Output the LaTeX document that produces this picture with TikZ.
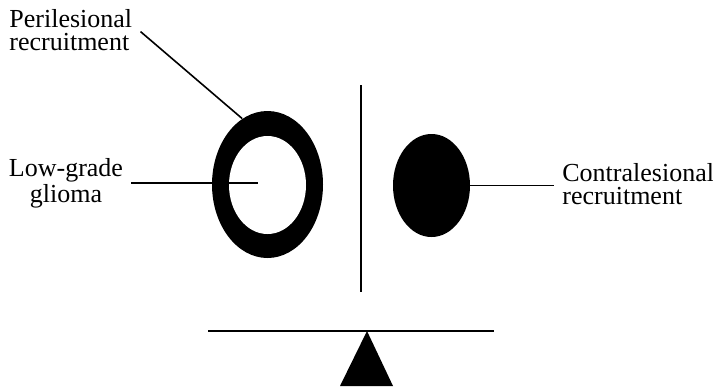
\documentclass[tikz,border=0pt]{standalone}
\usepackage{fontspec}
\setmainfont{Liberation Serif}
\usetikzlibrary{shapes.geometric, calc}

\begin{document}
\begin{tikzpicture}[
  x=0.5pt, y=-0.5pt,
  lbl/.style={inner sep=0pt, font=\fontsize{13pt}{11.5pt}\selectfont},
  blob/.style={ellipse, fill=black, inner sep=0pt},
  lead/.style={line width=0.8pt},
]
\useasboundingbox (0,0) rectangle (713,386);

% lesion side: ring with hollow centre
\node[blob, minimum width=55.5pt, minimum height=73.5pt] (ring) at (267.5,184.5) {};
\node[blob, fill=white, minimum width=38.5pt, minimum height=49pt] (glioma) at (267.5,185) {};
% healthy side
\node[blob, minimum width=38.5pt, minimum height=51.5pt] (contra) at (431.5,185.5) {};

% labels (base = last line)
\node[lbl, align=left, anchor=base west] (perilab) at (9,50) {Perilesional\\recruitment};
\node[lbl, align=center, anchor=base] (lowlab) at (66,202) {Low-grade\\glioma};
\node[lbl, align=left, anchor=base west] (contralab) at (562,204) {Contralesional\\recruitment};

\coordinate (gliomapt) at (258,183);
\coordinate (lowpt) at (lowlab.east |- gliomapt);
\coordinate (contrapt) at (contra.east -| contralab.west);

\draw[lead] ([xshift=4pt,yshift=-1pt]perilab.east) -- (ring.111);
\draw[lead] ([xshift=4pt]lowpt) -- (gliomapt);
\draw[lead] (contra.east) -- ([xshift=-4pt]contrapt);

% midline and balance
\draw[lead] (361,85) -- (361,292);
\draw[lead] (208,331) -- (494,331);
\fill (367,331) -- (393,386) -- (340,386) -- cycle;
\end{tikzpicture}
\end{document}
